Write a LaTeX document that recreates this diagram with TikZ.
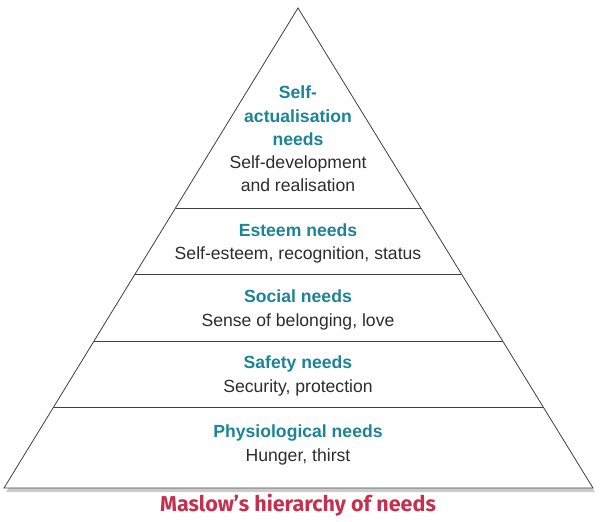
\documentclass[tikz,border=0pt]{standalone}
\usepackage{fontspec}
\setmainfont{Liberation Sans}
\newfontfamily\captionfont{Fira Sans}
\usetikzlibrary{shadows,calc}
\definecolor{headteal}{RGB}{28,132,150}
\definecolor{bodygray}{RGB}{45,45,45}
\definecolor{captionred}{RGB}{196,48,78}
\newcommand{\Head}[1]{{\color{headteal}\bfseries #1}}
\begin{document}
\begin{tikzpicture}
[
x=1pt, y=-1pt,
Outline/.style={draw=black!75, fill=white, thick, drop shadow={shadow xshift=2pt, shadow yshift=-4pt, opacity=0.4}},
Divider/.style={draw=black!75, thick},
Level/.style={align=center, text=bodygray, inner sep=0pt, font=\fontsize{17.6}{23.2}\selectfont},
Caption/.style={text=captionred, inner sep=0pt, font=\captionfont\bfseries\fontsize{21.5}{24}\selectfont},
]

\useasboundingbox (0,0) rectangle (600,522);

\coordinate (apex) at (298,8);
\coordinate (baseL) at (4,488);
\coordinate (baseR) at (593,488);

\path[Outline] (apex)--(baseR)--(baseL)--cycle;

% dividing lines
\foreach \yy in {208,274,341,407}
  \draw[Divider] ($(apex)!{(\yy-8)/480}!(baseL)$) -- ($(apex)!{(\yy-8)/480}!(baseR)$);

\node[Level] (selfact) at (298,139) {\Head{Self-}\\\Head{actualisation}\\\Head{needs}\\Self-development\\and realisation};
\node[Level] (esteem) at (298,243.5) {\Head{Esteem needs}\\Self-esteem, recognition, status};
\node[Level] (social) at (298,310) {\Head{Social needs}\\Sense of belonging, love};
\node[Level] (safety) at (298,376) {\Head{Safety needs}\\Security, protection};
\node[Level] (physio) at (298,445) {\Head{Physiological needs}\\Hunger, thirst};

\node[Caption] (title) at (298,505) {Maslow’s hierarchy of needs};

\end{tikzpicture}
\end{document}
